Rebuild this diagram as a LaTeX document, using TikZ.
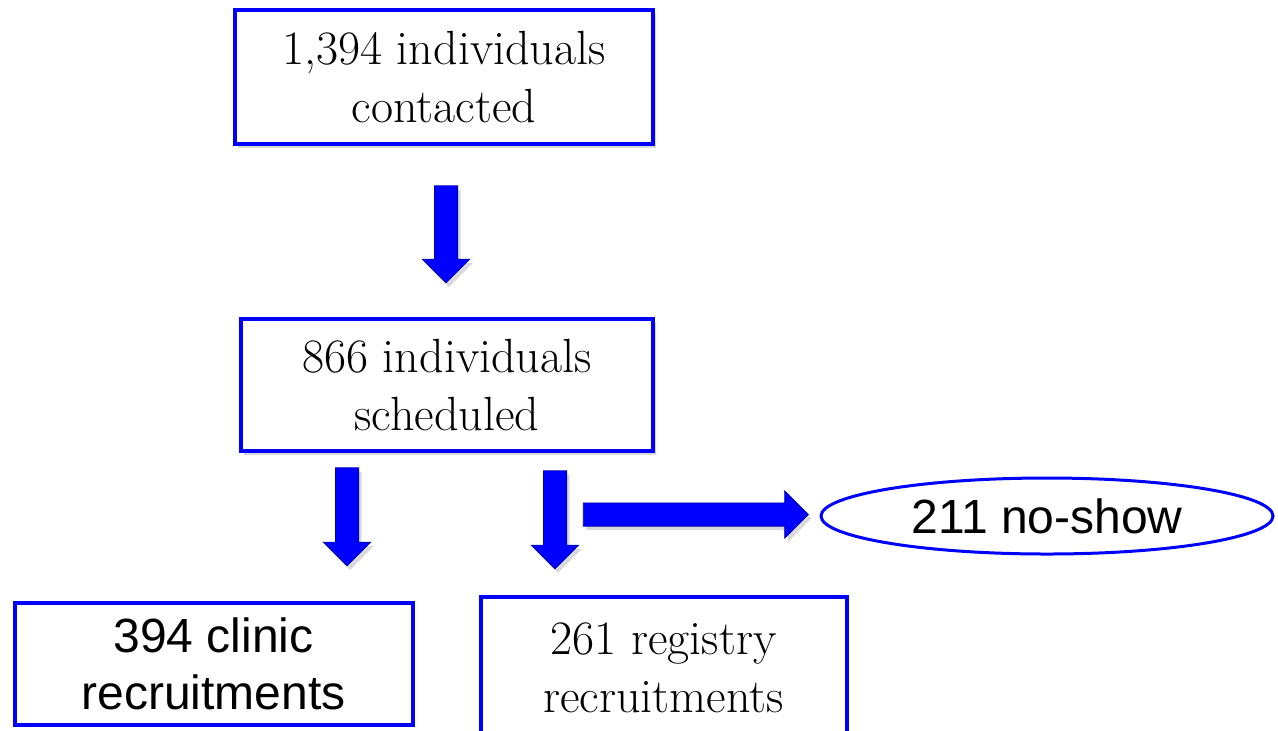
\documentclass[tikz,border=0pt]{standalone}
\usepackage{fontspec}
\newfontfamily\arialfont{Liberation Sans}
\usetikzlibrary{shapes.geometric, shapes.arrows, shadows}

\begin{document}
\begin{tikzpicture}
      [
        x=0.5pt, y=-0.5pt,
        shadowed/.style={drop shadow={opacity=0.3, shadow xshift=1.5pt, shadow yshift=-2pt}},
        stepbox/.style={draw=blue, line width=2pt, fill=white, inner sep=0pt,
          align=center, font=\fontsize{24}{29}\selectfont},
        sanstext/.style={font=\arialfont\fontsize{24}{28.5}\selectfont},
        blockarrow/.style={single arrow, fill=blue, draw=blue!70!black, line width=0.4pt,
          inner xsep=0pt, inner ysep=5.6pt, single arrow head extend=6pt,
          single arrow head indent=0pt, shadowed}
      ]
      \clip (0,0) rectangle (1278,730);
      % boxes
      \node [stepbox, shadowed, minimum width=209pt, minimum height=67pt] (contacted) at (444,77) {1,394 individuals\\contacted};
      \node [stepbox, shadowed, minimum width=206pt, minimum height=66pt] (scheduled) at (447,385) {866 individuals\\scheduled};
      \node [stepbox, sanstext, minimum width=199pt, minimum height=61pt] (clinic) at (213.5,664) {394 clinic\\recruitments};
      \node [stepbox, minimum width=183pt, minimum height=71pt] (registry) at (663.5,668) {261 registry\\recruitments};
      \node [ellipse, draw=blue, line width=1.5pt, fill=white, inner sep=0pt, sanstext,
        minimum width=226pt, minimum height=38pt] (noshow) at (1047,516) {211 no-show};
      % arrows
      \node [blockarrow, rotate=-90, minimum height=48.5pt] (toscheduled) at (446,228.5) {};
      \node [blockarrow, rotate=-90, minimum height=49pt] (toclinic) at (347,511) {};
      \node [blockarrow, rotate=-90, minimum height=49pt] (toregistry) at (555,514) {};
      \node [blockarrow, minimum height=112.5pt] (tonoshow) at (690,514.5) {};
\end{tikzpicture}
\end{document}
